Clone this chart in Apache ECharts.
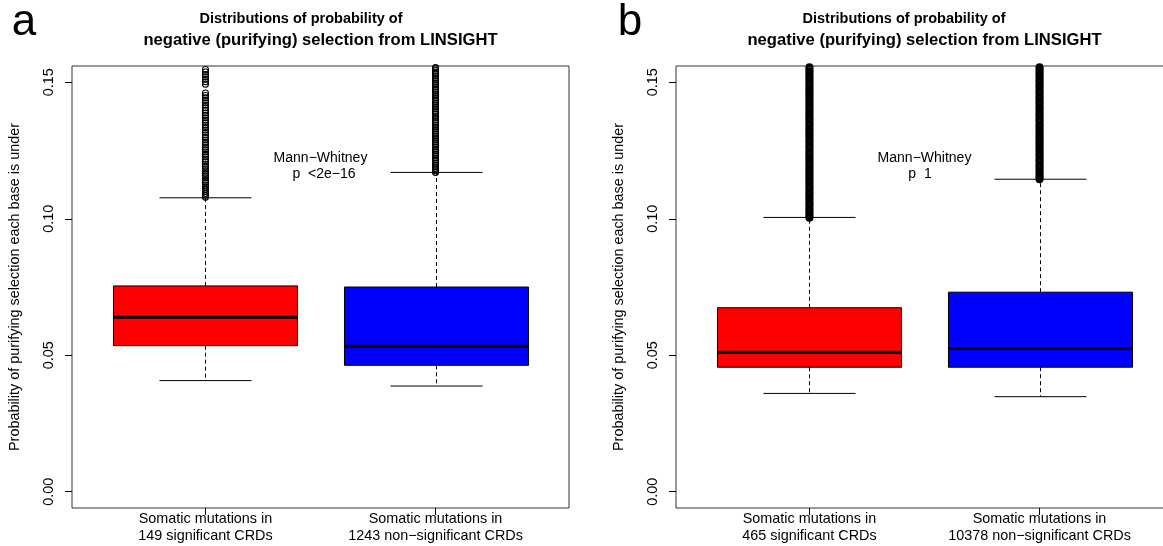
<!DOCTYPE html>
<html>
<head>
<meta charset="utf-8">
<script src="https://cdn.jsdelivr.net/npm/echarts@6/dist/echarts.min.js"></script>
<style>
html,body{margin:0;padding:0;background:#fff;}
#chart{width:1163px;height:546px;}
</style>
</head>
<body>
<div id="chart"></div>
<script>
// ---------- data ----------
const panelLetters = ['a', 'b'];
const titleLine1 = 'Distributions of probability of';
const titleLine2 = 'negative (purifying) selection from LINSIGHT';
const yAxisTitle = 'Probability of purifying selection each base is under';
const yTickValues = [0, 0.05, 0.10, 0.15];
const yTickLabels = ['0.00', '0.05', '0.10', '0.15'];
const categoriesA = ['Somatic mutations in\n149 significant CRDs', 'Somatic mutations in\n1243 non\u2212significant CRDs'];
const categoriesB = ['Somatic mutations in\n465 significant CRDs', 'Somatic mutations in\n10378 non\u2212significant CRDs'];
const testNameA = 'Mann\u2212Whitney';
const testPA = 'p  <2e\u221216';
const testNameB = 'Mann\u2212Whitney';
const testPB = 'p  1';
const boxColors = ['#FF0000', '#0000FF'];
// [lower whisker, Q1, median, Q3, upper whisker]
const statsA_sig = [0.0407, 0.0535, 0.0639, 0.0754, 0.1077];
const statsA_non = [0.0387, 0.0463, 0.0533, 0.0750, 0.1170];
const statsB_sig = [0.0360, 0.0456, 0.0511, 0.0674, 0.1005];
const statsB_non = [0.0348, 0.0456, 0.0525, 0.0731, 0.1145];
// outliers (values above upper whisker, visible up to the top of the plot)
const outliersA_sig = [0.1079,0.1086,0.1093,0.1101,0.1108,0.1116,0.1124,0.1133,0.1141,0.1150,0.1158,0.1166,0.1175,0.1183,0.1192,0.1200,0.1209,0.1218,0.1227,0.1236,0.1245,0.1253,0.1262,0.1271,0.1280,0.1289,0.1298,0.1307,0.1316,0.1325,0.1334,0.1343,0.1352,0.1361,0.1370,0.1379,0.1388,0.1398,0.1407,0.1416,0.1425,0.1434,0.1443,0.1452,0.1461,0.1493,0.1502,0.1511,0.1520,0.1529,0.1538,0.1547];
const outliersA_non = [0.1170,0.1176,0.1183,0.1190,0.1196,0.1203,0.1210,0.1216,0.1223,0.1230,0.1236,0.1243,0.1250,0.1256,0.1263,0.1270,0.1276,0.1283,0.1290,0.1296,0.1303,0.1310,0.1316,0.1323,0.1330,0.1336,0.1343,0.1350,0.1356,0.1363,0.1370,0.1376,0.1383,0.1390,0.1396,0.1403,0.1410,0.1416,0.1423,0.1430,0.1436,0.1443,0.1450,0.1456,0.1463,0.1470,0.1476,0.1483,0.1490,0.1496,0.1503,0.1510,0.1516,0.1523,0.1530,0.1536,0.1543,0.1550,0.1554];
const outliersB_sig = [0.1004,0.1010,0.1017,0.1024,0.1031,0.1037,0.1045,0.1052,0.1058,0.1066,0.1073,0.1079,0.1087,0.1094,0.1100,0.1108,0.1115,0.1121,0.1129,0.1136,0.1142,0.1150,0.1157,0.1163,0.1171,0.1178,0.1184,0.1192,0.1199,0.1205,0.1213,0.1220,0.1226,0.1234,0.1241,0.1247,0.1255,0.1262,0.1268,0.1276,0.1283,0.1289,0.1297,0.1304,0.1310,0.1318,0.1325,0.1331,0.1339,0.1346,0.1352,0.1360,0.1367,0.1373,0.1381,0.1388,0.1394,0.1402,0.1409,0.1415,0.1423,0.1430,0.1436,0.1444,0.1451,0.1457,0.1465,0.1472,0.1478,0.1486,0.1493,0.1499,0.1507,0.1514,0.1520,0.1528,0.1535,0.1541,0.1549,0.1555];
const outliersB_non = [0.1145,0.1151,0.1158,0.1165,0.1172,0.1178,0.1186,0.1193,0.1199,0.1207,0.1214,0.1220,0.1228,0.1235,0.1241,0.1249,0.1256,0.1262,0.1270,0.1277,0.1283,0.1291,0.1298,0.1304,0.1312,0.1319,0.1325,0.1333,0.1340,0.1346,0.1354,0.1361,0.1367,0.1375,0.1382,0.1388,0.1396,0.1403,0.1409,0.1417,0.1424,0.1430,0.1438,0.1445,0.1451,0.1459,0.1466,0.1472,0.1480,0.1487,0.1493,0.1501,0.1508,0.1514,0.1522,0.1529,0.1535,0.1543,0.1550,0.1555];

// ---------- chart ----------
const FONT = '"Liberation Sans", Arial, Helvetica, sans-serif';
const chart = echarts.init(document.getElementById('chart'), null, {renderer: 'canvas'});

function renderBox(params, api) {
  const xc = api.value(0);
  const lo = api.coord([xc, api.value(1)]);
  const q1 = api.coord([xc, api.value(2)]);
  const md = api.coord([xc, api.value(3)]);
  const q3 = api.coord([xc, api.value(4)]);
  const hi = api.coord([xc, api.value(5)]);
  const boxHalf = api.size([0.4, 0])[0];
  const capHalf = api.size([0.2, 0])[0];
  const cx = Math.round(lo[0]) + 0.5;
  const fill = boxColors[params.dataIndex];
  const dash = {stroke: '#000', lineWidth: 1, lineDash: [4, 3]};
  const solid = {stroke: '#000', lineWidth: 1};
  return {
    type: 'group',
    children: [
      {type: 'line', shape: {x1: cx, y1: q3[1], x2: cx, y2: hi[1]}, style: dash},
      {type: 'line', shape: {x1: cx, y1: q1[1], x2: cx, y2: lo[1]}, style: dash},
      {type: 'line', shape: {x1: cx - capHalf, y1: hi[1], x2: cx + capHalf, y2: hi[1]}, style: solid},
      {type: 'line', shape: {x1: cx - capHalf, y1: lo[1], x2: cx + capHalf, y2: lo[1]}, style: solid},
      {type: 'rect', shape: {x: cx - boxHalf, y: q3[1], width: 2 * boxHalf, height: q1[1] - q3[1]}, style: {fill: fill, stroke: '#000', lineWidth: 1}},
      {type: 'line', shape: {x1: cx - boxHalf, y1: md[1], x2: cx + boxHalf, y2: md[1]}, style: {stroke: '#000', lineWidth: 3}}
    ]
  };
}

function yLabel(v) {
  const i = yTickValues.findIndex(t => Math.abs(t - v) < 1e-9);
  return i >= 0 ? yTickLabels[i] : '';
}

const gridDefs = [
  {left: 72, right: 594},
  {left: 676, right: -10}
];
const cats = [categoriesA, categoriesB];
const stats = [[statsA_sig, statsA_non], [statsB_sig, statsB_non]];
const outs = [[outliersA_sig, outliersA_non], [outliersB_sig, outliersB_non]];
const BASE = 14.4;

const grids = gridDefs.map(g => ({
  left: g.left, right: g.right, top: 66, bottom: 38,
  show: true, borderColor: '#333', borderWidth: 1, backgroundColor: 'transparent',
  outerBoundsMode: 'none', containLabel: false
}));

const xAxes = [0, 1].map(i => ({
  gridIndex: i, type: 'value', min: 0.42, max: 2.58, position: 'bottom',
  splitLine: {show: false},
  axisLine: {show: false, onZero: false},
  axisTick: {show: true, customValues: [1, 2], length: 7, inside: false, lineStyle: {color: '#000', width: 1}},
  axisLabel: {
    show: true, customValues: [1, 2], margin: 3,
    formatter: v => cats[i][Math.round(v) - 1],
    color: '#000', fontFamily: FONT, fontSize: BASE, lineHeight: 17, align: 'center'
  }
}));

const yAxes = [0, 1].map(i => ({
  gridIndex: i, type: 'value', min: -0.006, max: 0.156, position: 'left',
  splitLine: {show: false},
  axisLine: {show: false, onZero: false},
  axisTick: {show: true, customValues: yTickValues, length: 7, lineStyle: {color: '#000', width: 1}},
  axisLabel: {
    show: true, customValues: yTickValues, rotate: 90, margin: 16,
    formatter: yLabel, color: '#000', fontFamily: FONT, fontSize: BASE
  },
  name: yAxisTitle, nameLocation: 'middle', nameRotate: 90, nameGap: 50,
  nameTextStyle: {color: '#000', fontFamily: FONT, fontSize: BASE}
}));

const series = [];
[0, 1].forEach(i => {
  series.push({
    type: 'custom', xAxisIndex: i, yAxisIndex: i, silent: true,
    renderItem: renderBox,
    encode: {x: 0, y: [1, 2, 3, 4, 5]},
    data: stats[i].map((s, k) => [k + 1].concat(s)),
    z: 2
  });
  [0, 1].forEach(k => {
    series.push({
      type: 'scatter', xAxisIndex: i, yAxisIndex: i, silent: true, clip: true,
      symbol: 'circle', symbolSize: 6,
      itemStyle: {color: 'rgba(0,0,0,0)', borderColor: '#000', borderWidth: i === 0 ? 1.1 : 2, opacity: 1},
      data: outs[i][k].map(v => [k + 1, v]),
      z: 3
    });
  });
});

function txt(x, y, text, size, weight) {
  return {
    type: 'text', x: x, y: y, silent: true,
    style: {text: text, fill: '#000', font: (weight || 'normal') + ' ' + size + 'px ' + FONT, align: 'center', verticalAlign: 'middle'}
  };
}

const graphics = [
  txt(24, 23, panelLetters[0], 44),
  txt(630, 23, panelLetters[1], 44),
  txt(301, 19, titleLine1, 14.5, 'bold'),
  txt(320.5, 40, titleLine2, 16.6, 'bold'),
  txt(904, 19, titleLine1, 14.5, 'bold'),
  txt(924.5, 40, titleLine2, 16.6, 'bold'),
  txt(320.5, 158, testNameA, 14),
  txt(324, 174, testPA, 14),
  txt(924.5, 158, testNameB, 14),
  txt(920, 174, testPB, 14)
];

chart.setOption({
  animation: false,
  backgroundColor: '#fff',
  grid: grids,
  xAxis: xAxes,
  yAxis: yAxes,
  series: series,
  graphic: graphics
});
</script>
</body>
</html>
